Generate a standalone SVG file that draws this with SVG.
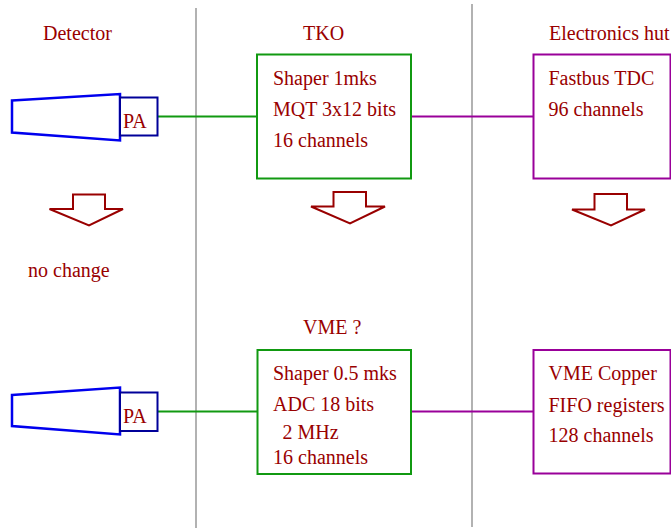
<svg xmlns="http://www.w3.org/2000/svg" width="671" height="529" viewBox="0 0 671 529">
<style>
text{font-family:"Liberation Serif","Times New Roman",serif;font-size:20px;fill:#990000}
.sep{stroke:#999;stroke-width:1.5;fill:none}
.det{fill:#fff;stroke:#0000ee;stroke-width:2.5}
.pa{fill:#fff;stroke:#000099;stroke-width:2}
.gbox{fill:#fff;stroke:#119911;stroke-width:2}
.pbox{fill:#fff;stroke:#990099;stroke-width:2}
.gl{stroke:#119911;stroke-width:2;fill:none}
.pl{stroke:#990099;stroke-width:2;fill:none}
.arr{fill:#fff;stroke:#990000;stroke-width:2;stroke-linejoin:miter}
</style>
<rect width="671" height="529" fill="#fff"/>
<g id="separators">
<line class="sep" x1="196" y1="8" x2="196" y2="528"/>
<line class="sep" x1="472" y1="4" x2="472" y2="527"/>
</g>
<g id="headers">
<text x="43" y="40">Detector</text>
<text x="303" y="40">TKO</text>
<text x="549" y="40">Electronics hut</text>
<text x="28" y="276.5">no change</text>
<text x="303" y="334">VME ?</text>
</g>
<g id="connectors">
<line class="gl" x1="157" y1="116.5" x2="257" y2="116.5"/>
<line class="pl" x1="411" y1="116.5" x2="533" y2="116.5"/>
<line class="gl" x1="157" y1="411.5" x2="257" y2="411.5"/>
<line class="pl" x1="411" y1="411.5" x2="533" y2="411.5"/>
</g>
<g id="detector-top">
<polygon class="det" points="12,100.5 120,94 120,140.5 12,132.5"/>
</g>
<g id="pa-top">
<rect class="pa" x="120" y="97.5" width="37.5" height="38"/>
<text x="123" y="128">PA</text>
</g>
<g id="tko">
<rect class="gbox" x="257" y="54.5" width="154" height="124"/>
<text x="273" y="85">Shaper 1mks</text>
<text x="273" y="116">MQT 3x12 bits</text>
<text x="273" y="147">16 channels</text>
</g>
<g id="fastbus">
<rect class="pbox" x="533.5" y="54.5" width="137" height="124"/>
<text x="548.5" y="85">Fastbus TDC</text>
<text x="548.5" y="116">96 channels</text>
</g>
<g id="arrow-detector">
<polygon class="arr" points="73,194.5 105,194.5 105,209 123,209 89,225.5 49.5,209 73,209"/>
</g>
<g id="arrow-tko">
<polygon class="arr" points="333.5,192 366,192 366,206.5 385,206.5 350,223.5 311,206.5 333.5,206.5"/>
</g>
<g id="arrow-hut">
<polygon class="arr" points="594.5,194 627,194 627,209.5 645,209.5 611,225.5 572,209.5 594.5,209.5"/>
</g>
<g id="detector-bottom">
<polygon class="det" points="12,395 120,387.5 120,434.5 12,426"/>
</g>
<g id="pa-bottom">
<rect class="pa" x="120" y="392.5" width="37.5" height="38.5"/>
<text x="123" y="423">PA</text>
</g>
<g id="vme">
<rect class="gbox" x="257.5" y="350" width="153.5" height="124"/>
<text x="273" y="380">Shaper 0.5 mks</text>
<text x="273" y="411">ADC 18 bits</text>
<text x="282.5" y="439">2 MHz</text>
<text x="273" y="463.5">16 channels</text>
</g>
<g id="vme-copper">
<rect class="pbox" x="533.5" y="350" width="137" height="123.5"/>
<text x="548.5" y="380">VME Copper</text>
<text x="548.5" y="411.5">FIFO registers</text>
<text x="548.5" y="441.5">128 channels</text>
</g>
</svg>
